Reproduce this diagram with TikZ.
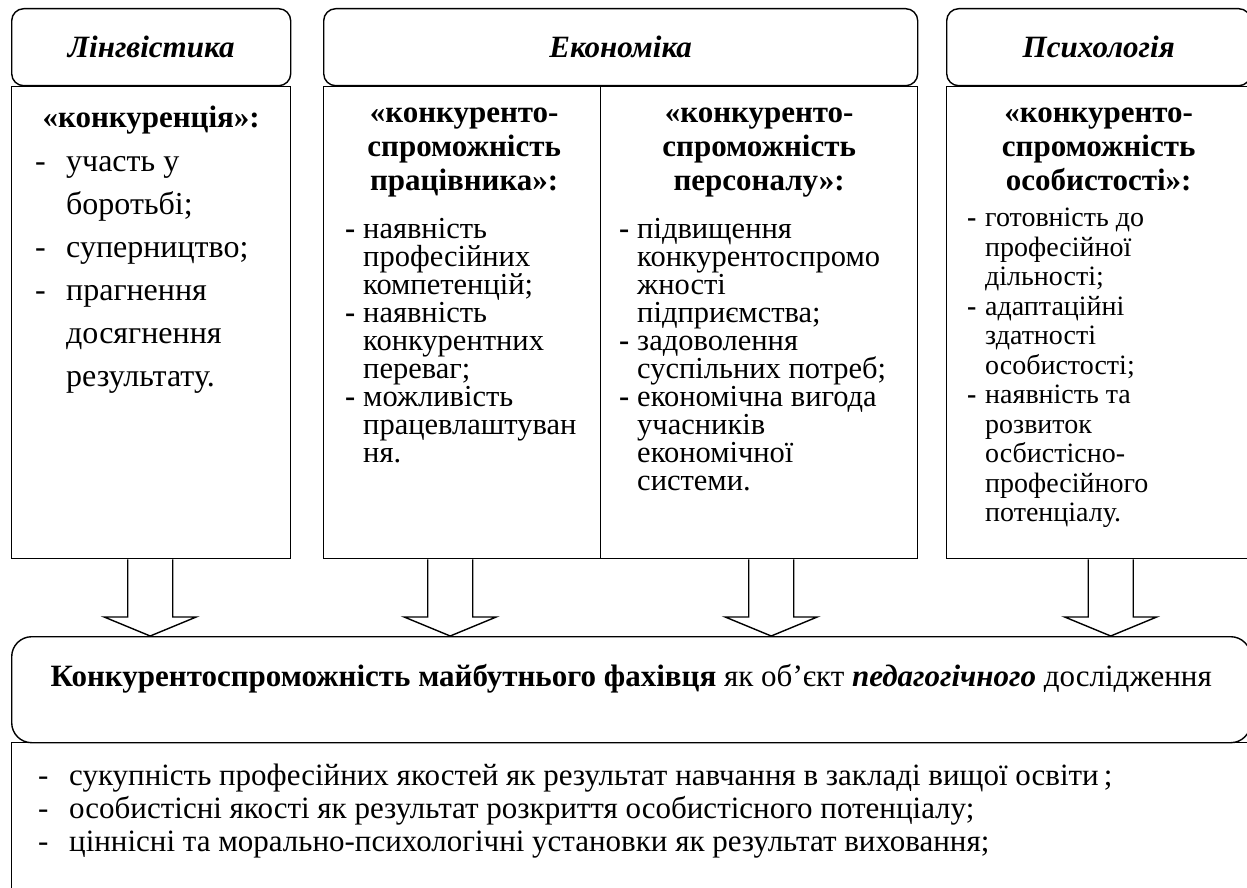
\documentclass[tikz,border=0pt]{standalone}
\usepackage{fontspec}
\setmainfont{Liberation Serif}[Ligatures=TeX]
\usetikzlibrary{positioning,calc}

% list markers with hanging indent
\newcommand{\dashA}{\makebox[31pt][l]{-}}
\newcommand{\gapA}{\hspace*{31pt}}
\newcommand{\dashB}{\makebox[18pt][l]{\textbf{-}}}
\newcommand{\gapB}{\hspace*{18pt}}

\tikzset{
  headbox/.style={draw, line width=1.4pt, rounded corners=12pt, anchor=north west, inner sep=0pt},
  bodybox/.style={draw, line width=1.4pt, anchor=north west, inner sep=0pt},
  title/.style={font=\rmfamily\fontsize{31}{33}\selectfont\bfseries\itshape},
  term/.style={align=center, anchor=north, inner sep=0pt, font=\rmfamily\fontsize{31}{34}\selectfont\bfseries},
  list/.style={align=left, anchor=north west, inner sep=0pt},
  blockarrow/.style={line width=1.4pt, to path={let \p1=(\tikztostart), \p2=(\tikztotarget) in
    (\x1-22.5pt,\y1) -- (\x1-22.5pt,\y2+19pt) -- (\x1-46pt,\y2+19pt) -- (\x2,\y2)
    -- (\x1+46pt,\y2+19pt) -- (\x1+22.5pt,\y2+19pt) -- (\x1+22.5pt,\y1)}}
}

\begin{document}
\begin{tikzpicture}[x=1pt, y=-1pt, font=\rmfamily]
  \useasboundingbox (0,0) rectangle (1247,888);
  \clip (0,0) rectangle (1247,888);

  % headers
  \node[headbox, minimum width=279pt, minimum height=77pt] (linghead) at (11,8) {};
  \node[headbox, minimum width=594pt, minimum height=77pt] (econhead) at (323,8) {};
  \node[headbox, minimum width=304pt, minimum height=77pt] (psyhead) at (946,8) {};
  \node[title] at (linghead.center) {Лінгвістика};
  \node[title] at (econhead.center) {Економіка};
  \node[title] at (psyhead.center) {Психологія};

  % bodies
  \node[bodybox, minimum width=279pt, minimum height=472pt] (lingbody) at (11,86) {};
  \node[bodybox, minimum width=277pt, minimum height=472pt] (workbody) at (323,86) {};
  \node[bodybox, minimum width=317pt, minimum height=472pt] (staffbody) at (600,86) {};
  \node[bodybox, minimum width=304pt, minimum height=472pt] (psybody) at (946,86) {};

  % Lingvistyka
  \node[term] (lingterm) at ($(lingbody.north)+(0,20)$) {«конкуренція»:};
  \node[list, font=\rmfamily\fontsize{32}{43}\selectfont] (linglist) at (35,156) {%
    \dashA участь у\\ \gapA боротьбі;\\ \dashA суперництво;\\
    \dashA прагнення\\ \gapA досягнення\\ \gapA результату.};

  % Ekonomika
  \node[term] (workterm) at ($(workbody.north)+(2,22)$) {«конкуренто-\\спроможність\\працівника»:};
  \node[list, font=\rmfamily\fontsize{30.5}{28}\selectfont] (worklist) at (345,218) {%
    \dashB наявність\\ \gapB професійних\\ \gapB компетенцій;\\
    \dashB наявність\\ \gapB конкурентних\\ \gapB переваг;\\
    \dashB можливість\\ \gapB працевлаштуван\\ \gapB ня.};
  \node[term] (staffterm) at ($(staffbody.north)+(0,22)$) {«конкуренто-\\спроможність\\персоналу»:};
  \node[list, font=\rmfamily\fontsize{30.5}{28}\selectfont] (stafflist) at (619,218) {%
    \dashB підвищення\\ \gapB конкурентоспромо\\ \gapB жності\\ \gapB підприємства;\\
    \dashB задоволення\\ \gapB суспільних потреб;\\
    \dashB економічна вигода\\ \gapB учасників\\ \gapB економічної\\ \gapB системи.};

  % Psykholohiia
  \node[term] (psyterm) at ($(psybody.north)+(0,22)$) {«конкуренто-\\спроможність\\особистості»:};
  \node[list, font=\rmfamily\fontsize{28}{29.5}\selectfont] (psylist) at (967,208) {%
    \dashB готовність до\\ \gapB професійної\\ \gapB дільності;\\
    \dashB адаптаційні\\ \gapB здатності\\ \gapB особистості;\\
    \dashB наявність та\\ \gapB розвиток\\ \gapB осбистісно-\\ \gapB професійного\\ \gapB потенціалу.};

  % bottom
  \node[headbox, rounded corners=20pt, minimum width=1239pt, minimum height=106pt] (goal) at (11,636) {};
  \node[anchor=north, inner sep=0pt, font=\rmfamily\fontsize{31}{33}\selectfont] (goaltext) at ($(goal.north)+(0,28)$)
    {\textbf{Конкурентоспроможність майбутнього фахівця} як об’єкт \textbf{\textit{педагогічного}} дослідження};
  \node[bodybox, minimum width=1239pt, minimum height=200pt] (goalbody) at (11,742) {};
  \node[list, font=\rmfamily\fontsize{31}{33}\selectfont] (goallist) at (38,764) {%
    \makebox[31pt][l]{-}сукупність професійних якостей як результат навчання в закладі вищої освіти\,;\\
    \makebox[31pt][l]{-}особистісні якості як результат розкриття особистісного потенціалу;\\
    \makebox[31pt][l]{-}ціннісні та морально-психологічні установки як результат виховання;};

  % arrows
  \draw[blockarrow] ([xshift=-1pt]lingbody.south) to ([xshift=-1pt]lingbody.south |- goal.north);
  \draw[blockarrow] ([xshift=-12pt]workbody.south) to ([xshift=-12pt]workbody.south |- goal.north);
  \draw[blockarrow] ([xshift=12pt]staffbody.south) to ([xshift=12pt]staffbody.south |- goal.north);
  \draw[blockarrow] ([xshift=12pt]psybody.south) to ([xshift=12pt]psybody.south |- goal.north);
\end{tikzpicture}
\end{document}
